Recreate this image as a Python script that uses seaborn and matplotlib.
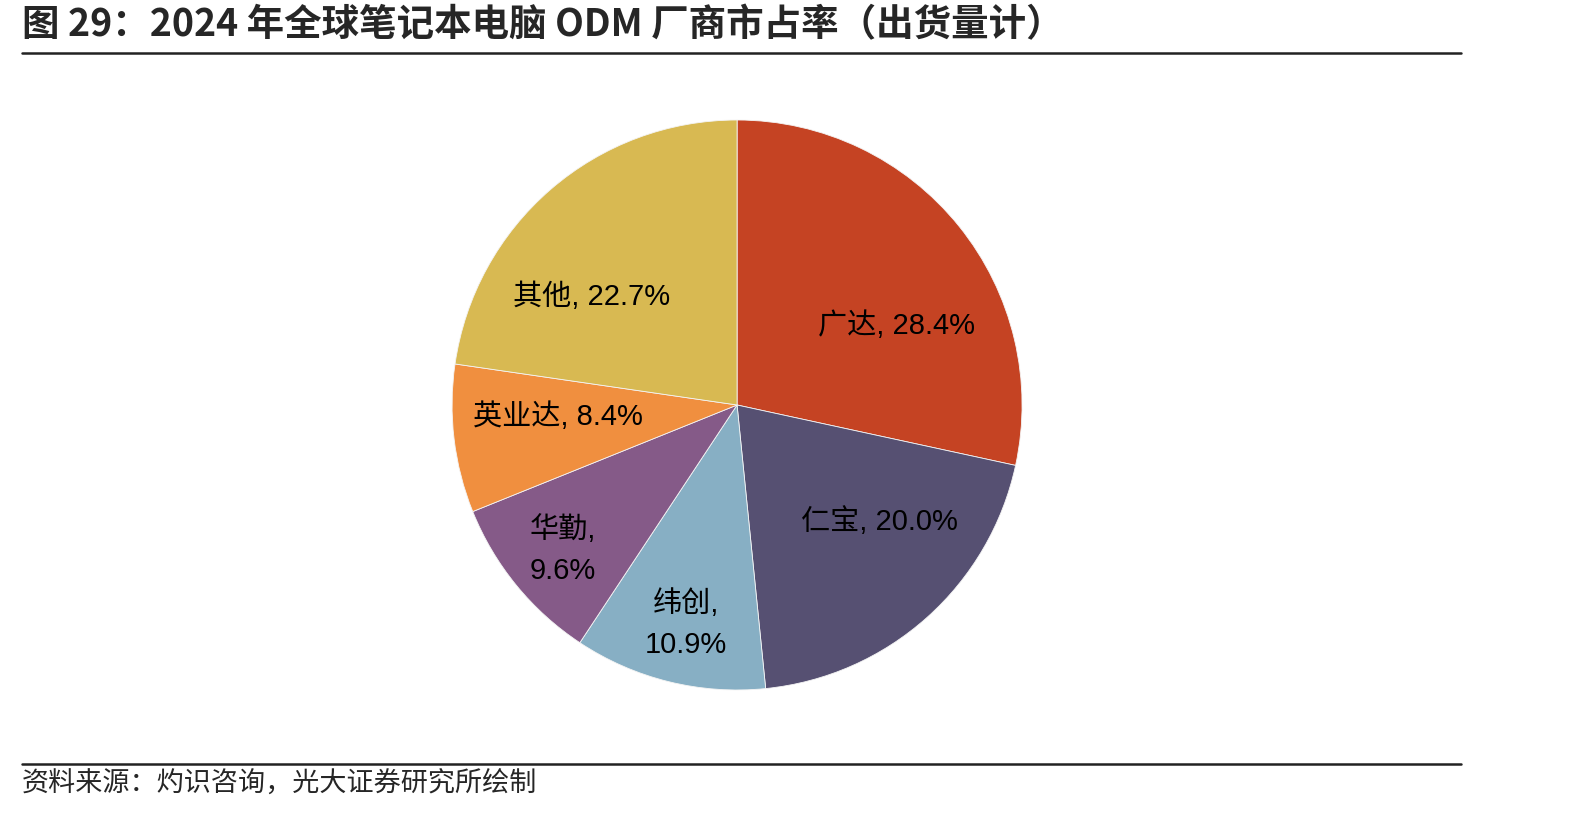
import matplotlib
matplotlib.use('Agg')
import matplotlib.pyplot as plt
import seaborn as sns

sns.set_theme(style='white')
plt.rcParams['font.family'] = ['Noto Sans CJK SC', 'DejaVu Sans']

# data
companies = ['广达', '仁宝', '纬创', '华勤', '英业达', '其他']
shares = [28.4, 20.0, 10.9, 9.6, 8.4, 22.7]
colors = ['#C54323', '#565072', '#87AFC4', '#855A88', '#F08F3F', '#D8B952']
label_text = ['广达, 28.4%', '仁宝, 20.0%', '纬创,\n10.9%', '华勤,\n9.6%', '英业达, 8.4%', '其他, 22.7%']
# label placement (in pie-radius units)
label_pos = [(0.56, 0.28), (0.50, -0.41), (-0.18, -0.77), (-0.61, -0.51), (-0.63, -0.04), (-0.51, 0.38)]

title = '图 29：2024 年全球笔记本电脑 ODM 厂商市占率（出货量计）'
source = '资料来源：灼识咨询，光大证券研究所绘制'

fig = plt.figure(figsize=(15.94, 8.13), dpi=100)
ax = fig.add_axes([0.2836, 0.1513, 0.3576, 0.7011])

wedges, texts = ax.pie(shares, colors=colors, startangle=90, counterclock=False,
                       labels=label_text, labeldistance=0.6,
                       wedgeprops=dict(edgecolor='#f4f4f4', linewidth=0.6),
                       textprops=dict(fontsize=21, family=['Liberation Sans', 'Noto Sans CJK SC'],
                                      color='black', ha='center', va='center', linespacing=1.6))
for t, p in zip(texts, label_pos):
    t.set_position(p)
    t.set_ha('center')
ax.set_xlim(-1, 1)
ax.set_ylim(-1, 1)
ax.set_aspect('equal')
ax.axis('off')

fig.text(22 / 1594, 1 - 25 / 813, title, fontsize=27, fontweight='bold', ha='left', va='center')
fig.add_artist(plt.Line2D([22 / 1594, 1461 / 1594], [1 - 53 / 813] * 2, color='#222222', lw=1.8))
fig.add_artist(plt.Line2D([22 / 1594, 1461 / 1594], [1 - 764 / 813] * 2, color='#222222', lw=1.8))
fig.text(22 / 1594, 1 - 784 / 813, source, fontsize=19.5, ha='left', va='center')

plt.savefig('out.png', dpi=100)
